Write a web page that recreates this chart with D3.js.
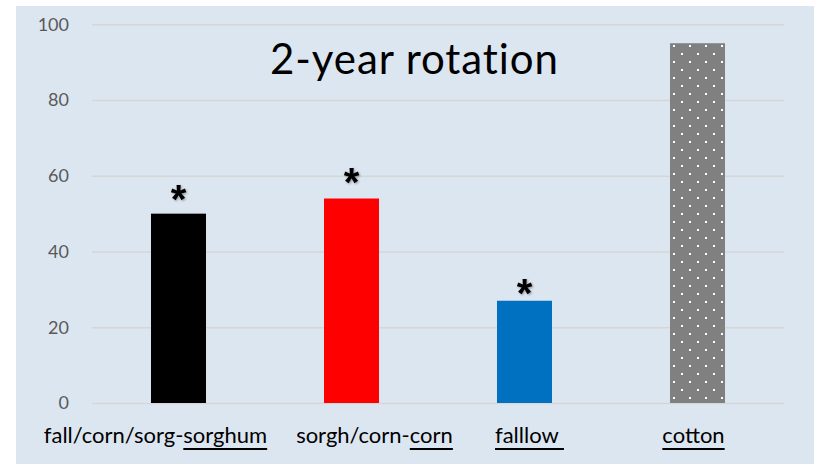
<!DOCTYPE html>
<html><head><meta charset="utf-8">
<script src="https://cdn.jsdelivr.net/npm/d3@7"></script>
<style>html,body{margin:0;padding:0;background:#fff;}svg{display:block;}</style>
</head><body>
<svg id="c" width="815" height="464"></svg>
<script>
// ---- data ----
const categories = ["fall/corn/sorg-sorghum", "sorgh/corn-corn", "falllow ", "cotton"];
const labelPlain = ["fall/corn/sorg-", "sorgh/corn-", "", ""];
const labelUnder = ["sorghum", "corn", "falllow ", "cotton"];
const values = [50, 54, 27, 95];
const significant = [true, true, true, false];
const tickValues = [0, 20, 40, 60, 80, 100];
const title = "2-year rotation";

// ---- layout ----
const barColors = ["#000000", "#ff0000", "#0070c0", "url(#dots)"];
const labelShift = [-23, 23, 5, -4];
const starShift = [-1, -3, 6, 0];
const plot = {left: 92, right: 784, top: 24.3, bottom: 403};
const fontMain = "Lato, 'Open Sans', sans-serif";

const svg = d3.select("#c");
svg.append("rect").attr("x", 16).attr("y", 6).attr("width", 798).attr("height", 458).attr("fill", "#dce6f1");

const defs = svg.append("defs");
const pat = defs.append("pattern").attr("id", "dots").attr("patternUnits", "userSpaceOnUse")
  .attr("width", 16).attr("height", 16).attr("x", 673).attr("y", 45);
pat.append("rect").attr("width", 16).attr("height", 16).attr("fill", "#808080");
pat.append("rect").attr("x", 0).attr("y", 0).attr("width", 2).attr("height", 2).attr("fill", "#fff");
pat.append("rect").attr("x", 8).attr("y", 8).attr("width", 2).attr("height", 2).attr("fill", "#fff");

const x = d3.scaleBand().domain(categories).range([plot.left, plot.right]).paddingInner(0.682).paddingOuter(0.341);
const y = d3.scaleLinear().domain([0, 100]).range([plot.bottom, plot.top]);

// gridlines + ticks
const yAxis = d3.axisLeft(y).tickValues(tickValues).tickSize(-(plot.right - plot.left)).tickPadding(23);
const gy = svg.append("g").attr("transform", `translate(${plot.left},0)`).call(yAxis);
gy.select(".domain").remove();
gy.selectAll(".tick line").attr("stroke", "#d6d6d6").attr("stroke-width", 1.5);
gy.selectAll(".tick text").attr("fill", "#595959").attr("font-family", fontMain).attr("font-size", 18);

// bars
svg.append("g").selectAll("rect").data(values).join("rect")
  .attr("x", (d, i) => x(categories[i]))
  .attr("y", d => y(d))
  .attr("width", x.bandwidth())
  .attr("height", d => y(0) - y(d))
  .attr("fill", (d, i) => barColors[i]);

// asterisks
svg.append("g").selectAll("text").data(values.map((v, i) => ({v, i})).filter(o => significant[o.i])).join("text")
  .attr("x", o => x(categories[o.i]) + x.bandwidth() / 2)
  .attr("y", o => y(o.v) + starShift[o.i])
  .attr("text-anchor", "middle")
  .attr("font-family", "'Liberation Sans', Arial, sans-serif")
  .attr("font-weight", "bold")
  .attr("font-size", 40)
  .attr("fill", "#000")
  .style("filter", "drop-shadow(1px 1px 1px rgba(0,0,0,0.35))")
  .text("*");

// title
svg.append("text").attr("x", 414).attr("y", 74).attr("text-anchor", "middle")
  .attr("font-family", fontMain).attr("font-size", 42).attr("fill", "#000")
  .style("font-variant-ligatures", "none")
  .attr("textLength", 288).attr("lengthAdjust", "spacing")
  .text(title);

// category labels
const lg = svg.append("g");
categories.forEach((c, i) => {
  const cx = x(c) + x.bandwidth() / 2 + labelShift[i];
  const t = lg.append("text").attr("x", cx).attr("y", 443).attr("text-anchor", "middle")
    .attr("font-family", fontMain).attr("font-size", 22).attr("fill", "#000")
    .style("white-space", "pre").attr("xml:space", "preserve");
  t.append("tspan").text(labelPlain[i]);
  t.append("tspan").text(labelUnder[i]);
  const node = t.node();
  const s = labelPlain[i].length;
  const e = s + labelUnder[i].length - 1;
  const x0 = node.getStartPositionOfChar(s).x;
  const x1 = node.getEndPositionOfChar(e).x;
  lg.append("line").attr("x1", x0).attr("x2", x1).attr("y1", 449).attr("y2", 449)
    .attr("stroke", "#000").attr("stroke-width", 2);
});
</script>
</body></html>
